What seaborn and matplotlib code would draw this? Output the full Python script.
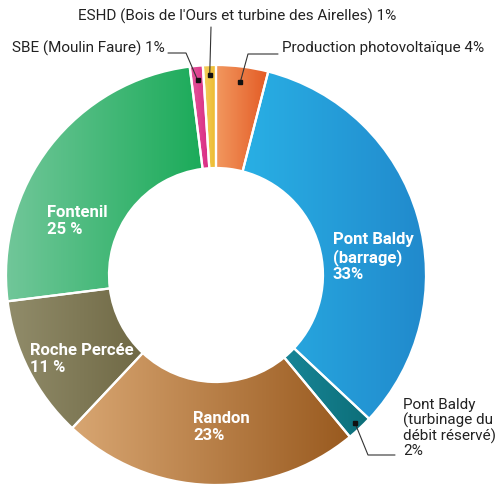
import numpy as np
import matplotlib
matplotlib.use("Agg")
import matplotlib.pyplot as plt
import seaborn as sns

# parts de production (en %), dans l'ordre horaire depuis le haut
sources = ["Production photovoltaïque", "Pont Baldy (barrage)",
           "Pont Baldy (turbinage du débit réservé)", "Randon", "Roche Percée",
           "Fontenil", "SBE (Moulin Faure)",
           "ESHD (Bois de l'Ours et turbine des Airelles)"]
parts = [4, 33, 2, 23, 11, 25, 1, 1]
couleurs_claires = ["#f2985f", "#2ab5e8", "#2298b0", "#d8a672", "#918c6a", "#72c79a", "#e3589c", "#f3cf62"]
couleurs_foncees = ["#e35a24", "#2189cc", "#0c6e78", "#995a1f", "#5d5530", "#15a955", "#d61878", "#edb928"]

etiquettes_int = {1: "Pont Baldy\n(barrage)\n33%", 3: "Randon\n23%",
                  4: "Roche Percée\n11 %", 5: "Fontenil\n25 %"}
pos_int = {1: (333, 257), 3: (193, 427), 4: (30, 359), 5: (47, 221)}

W, H = 499, 488
sns.set_theme(style="white")
plt.rcParams['font.family'] = ['Roboto', 'DejaVu Sans']

fig = plt.figure(figsize=(W / 100, H / 100), dpi=100)
ax = fig.add_axes([0, 0, 1, 1])

cx, cy, r = 216, H - 275, 210
wedges, _ = ax.pie(parts, startangle=90, counterclock=False, center=(cx, cy),
                   radius=r, frame=True,
                   wedgeprops=dict(width=r - 107, edgecolor="white", linewidth=1.6))

# dégradés horizontaux dans chaque part
grad = np.linspace(0, 1, 256).reshape(1, -1)
for w, c1, c2 in zip(wedges, couleurs_claires, couleurs_foncees):
    v = w.get_path().vertices
    cmap = sns.blend_palette([c1, c2], as_cmap=True)
    im = ax.imshow(grad, cmap=cmap, aspect="auto", zorder=1,
                   extent=[v[:, 0].min(), v[:, 0].max(), v[:, 1].min(), v[:, 1].max()])
    im.set_clip_path(w)
    w.set_facecolor("none")
    w.set_zorder(2)

ax.set_xlim(0, W)
ax.set_ylim(0, H)
ax.set_aspect("equal")
ax.axis("off")

fs_int = 12
fs = 11
for i, txt in etiquettes_int.items():
    x, y = pos_int[i]
    ax.text(x, H - y, txt, color="white", fontsize=fs_int, fontweight="bold",
            ha="left", va="center", linespacing=1.1, zorder=4)


def point_part(i, rr):
    w = wedges[i]
    a = np.deg2rad((w.theta1 + w.theta2) / 2)
    return cx + rr * np.cos(a), cy + rr * np.sin(a)


lc = "#333333"


def renvoi(i, rr, chemin):
    px, py = point_part(i, rr)
    xs = [px] + [p[0] for p in chemin]
    ys = [py] + [H - p[1] for p in chemin]
    ax.plot(xs, ys, color=lc, lw=0.8, zorder=5)
    ax.plot(px, py, marker="s", ms=3, color="#111111", zorder=6)


# ESHD
renvoi(7, 200, [(211, 27)])
ax.text(237, H - 16, sources[7] + " 1%", fontsize=fs, ha="center", va="center", color="#222222")
# SBE
renvoi(6, 196, [(186, 53), (168, 53)])
ax.text(165, H - 48, sources[6] + " 1%", fontsize=fs, ha="right", va="center", color="#222222")
# photovoltaïque
renvoi(0, 195, [(248, 54), (278, 54)])
ax.text(282, H - 48, sources[0] + " 4%", fontsize=fs, ha="left", va="center", color="#222222")
# turbinage
renvoi(2, 203, [(368, 455), (395, 455)])
ax.text(403, H - 428, "Pont Baldy\n(turbinage du\ndébit réservé)\n2%", fontsize=fs,
        ha="left", va="center", linespacing=1.05, color="#222222")

fig.savefig("out.png", dpi=100)
